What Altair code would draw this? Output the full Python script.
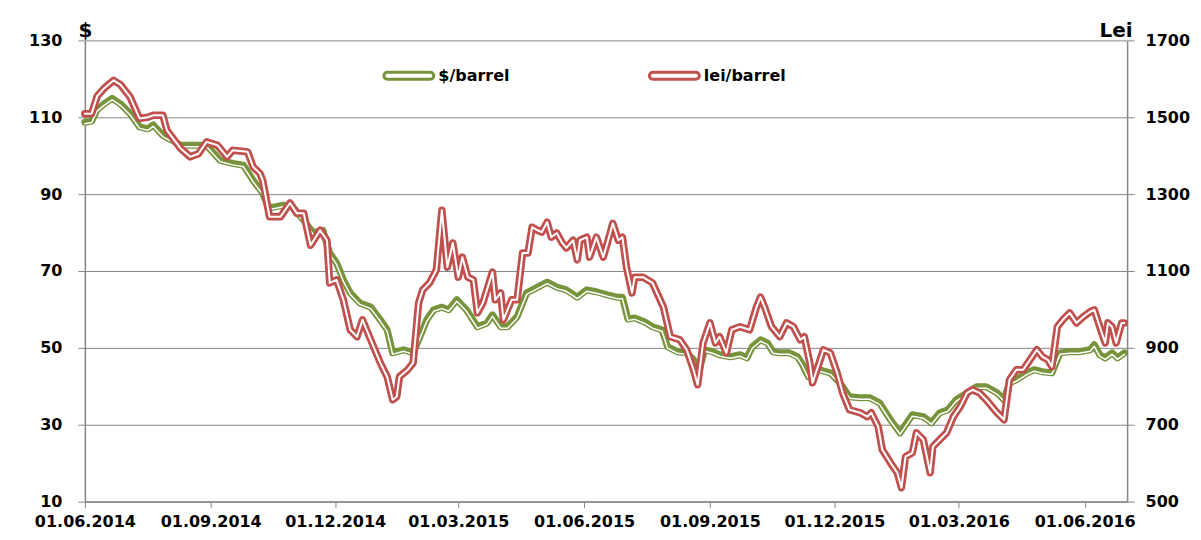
import altair as alt
import pandas as pd

START = "2014-06-01"

# $/barrel readings (days since 01.06.2014, value in $)
usd_days = [0, 5, 9, 14, 20, 26, 33, 40, 46, 50,
            57, 64, 70, 79, 89, 99, 108, 116, 123, 130,
            134, 138, 145, 152, 160, 167, 174, 179, 184, 189,
            194, 201, 209, 216, 221, 225, 233, 240, 245, 250,
            255, 261, 266, 272, 279, 287, 294, 298, 304, 309,
            316, 323, 331, 338, 345, 352, 360, 367, 374, 382,
            389, 393, 397, 402, 409, 415, 422, 426, 433, 440,
            445, 448, 453, 459, 464, 472, 479, 484, 488, 494,
            499, 503, 508, 515, 521, 524, 529, 534, 537, 545,
            552, 559, 567, 574, 581, 589, 596, 601, 605, 613,
            619, 625, 631, 637, 645, 652, 659, 667, 672, 676,
            681, 689, 694, 700, 707, 713, 720, 727, 735, 738,
            742, 746, 751, 755, 760]
usd_values = [108.7, 109.0, 112.0, 113.5, 114.9, 113.5, 111.0, 107.5, 107.0, 108.0,
              105.3, 104.0, 102.7, 102.7, 102.7, 98.8, 98.0, 97.5, 93.6, 90.3,
              86.6, 86.6, 87.1, 86.6, 83.2, 79.9, 80.6, 74.7, 72.1, 67.7,
              64.3, 61.7, 60.6, 57.3, 54.7, 48.7, 49.5, 48.7, 52.9, 57.3,
              59.9, 60.6, 59.9, 62.5, 59.9, 55.5, 56.5, 58.6, 55.5, 55.5,
              58.1, 64.3, 65.8, 67.1, 65.8, 65.1, 63.2, 65.1, 64.6, 63.8,
              63.2, 63.2, 57.5, 57.8, 56.8, 55.5, 54.7, 50.3, 49.0, 48.7,
              46.9, 42.5, 49.5, 49.0, 48.2, 47.7, 48.2, 47.4, 50.3, 52.1,
              51.3, 49.0, 48.7, 48.7, 47.7, 46.1, 42.5, 44.0, 44.3, 43.5,
              40.9, 37.3, 37.0, 37.0, 35.7, 31.3, 27.9, 30.5, 32.6, 32.1,
              30.5, 33.1, 33.9, 36.5, 38.3, 39.9, 39.9, 38.3, 36.5, 40.9,
              41.7, 43.5, 44.3, 43.8, 43.5, 48.7, 49.0, 49.0, 49.5, 50.8,
              48.2, 47.4, 48.7, 47.4, 48.7]

# lei/barrel readings (days since 01.06.2014, value in lei)
lei_days = [0, 5, 9, 14, 21, 26, 33, 40, 46, 50,
            57, 60, 70, 77, 83, 89, 97, 104, 108, 119,
            123, 128, 130, 135, 143, 150, 155, 160, 165, 172,
            177, 179, 184, 189, 194, 199, 203, 209, 216, 221,
            225, 228, 230, 236, 240, 244, 247, 252, 257, 261,
            265, 269, 273, 276, 280, 284, 287, 291, 298, 300,
            304, 306, 309, 312, 316, 320, 324, 327, 331, 334,
            338, 341, 345, 349, 352, 357, 360, 362, 367, 369,
            374, 379, 382, 386, 390, 393, 396, 400, 402, 408,
            415, 423, 428, 435, 440, 445, 448, 452, 457, 461,
            464, 469, 473, 479, 486, 491, 494, 497, 502, 508,
            513, 518, 523, 526, 530, 532, 540, 545, 550, 554,
            559, 567, 572, 575, 580, 583, 589, 594, 597, 600,
            605, 608, 613, 618, 620, 625, 630, 635, 640, 645,
            649, 654, 659, 667, 672, 676, 681, 686, 691, 696,
            700, 704, 707, 711, 715, 720, 725, 730, 735, 738,
            742, 746, 748, 751, 754, 758, 760]
lei_values = [1509, 1510, 1555, 1575, 1596, 1585, 1553, 1497, 1500, 1505,
              1505, 1466, 1419, 1397, 1405, 1436, 1427, 1397, 1414, 1410,
              1371, 1354, 1336, 1241, 1241, 1277, 1250, 1250, 1167, 1206,
              1180, 1069, 1077, 1025, 947, 929, 973, 921, 861, 825,
              765, 773, 825, 843, 861, 1017, 1051, 1069, 1103, 1258,
              1110, 1173, 1084, 1136, 1084, 1077, 991, 1017, 1097, 1025,
              1043, 973, 999, 1025, 1025, 1147, 1147, 1214, 1206, 1201,
              1227, 1188, 1199, 1173, 1160, 1180, 1129, 1180, 1188, 1136,
              1188, 1136, 1173, 1224, 1180, 1188, 1110, 1043, 1084, 1084,
              1069, 1006, 929, 921, 895, 843, 804, 913, 965, 913,
              929, 887, 947, 955, 947, 1006, 1032, 1006, 955, 929,
              965, 955, 921, 929, 861, 809, 895, 887, 835, 783,
              739, 731, 721, 731, 695, 635, 601, 575, 536, 617,
              627, 679, 661, 575, 643, 661, 679, 721, 747, 783,
              791, 783, 765, 731, 713, 817, 843, 843, 869, 895,
              877, 869, 851, 955, 973, 991, 965, 981, 994, 999,
              955, 913, 965, 955, 913, 965, 965]

series_names = ["$/barrel", "lei/barrel"]
series_colors = ["#77933C", "#C0504D"]
x_tick_dates = [(2014, 6), (2014, 9), (2014, 12), (2015, 3), (2015, 6),
                (2015, 9), (2015, 12), (2016, 3), (2016, 6)]
x_domain = [(2014, 6, 1), (2016, 7, 2)]
usd_ticks = [10, 30, 50, 70, 90, 110, 130]
lei_ticks = [500, 700, 900, 1100, 1300, 1500, 1700]


def to_dates(days):
    base = pd.Timestamp(START)
    return [(base + pd.Timedelta(days=d)).strftime("%Y-%m-%d") for d in days]


usd_df = pd.DataFrame({"date": to_dates(usd_days), "value": usd_values,
                       "series": series_names[0]})
lei_df = pd.DataFrame({"date": to_dates(lei_days), "value": lei_values,
                       "series": series_names[1]})

x_enc = alt.X(
    "date:T",
    scale=alt.Scale(type="utc", domain=[alt.DateTime(year=y, month=m, date=d, utc=True)
                                        for (y, m, d) in x_domain]),
    axis=alt.Axis(values=[alt.DateTime(year=y, month=m, date=1, utc=True) for (y, m) in x_tick_dates],
                  labelExpr="utcFormat(datum.value, '%d.%m.%Y')", title=None, grid=False,
                  tickSize=6, labelPadding=6, labelOverlap=False, labelFlush=False),
)

y_usd = alt.Y(
    "value:Q",
    scale=alt.Scale(domain=[10, 130], nice=False, zero=False),
    axis=alt.Axis(orient="left", values=usd_ticks, format="d", title="$", titleAngle=0, titleX=0,
                  titleY=-4, titleAlign="center", titleBaseline="alphabetic", titleFontSize=20,
                  tickSize=7, labelPadding=16, grid=True),
)
y_lei = alt.Y(
    "value:Q",
    scale=alt.Scale(domain=[500, 1700], nice=False, zero=False),
    axis=alt.Axis(orient="right", values=lei_ticks, format="d", title="Lei", titleAngle=0, titleX=5,
                  titleY=-4, titleAlign="right", titleBaseline="alphabetic", titleFontSize=20,
                  tickSize=7, labelPadding=11, grid=False),
)

capsule = "M -0.86 -0.14 L 0.86 -0.14 A 0.14 0.14 0 0 1 0.86 0.14 L -0.86 0.14 A 0.14 0.14 0 0 1 -0.86 -0.14 Z"

color_enc = alt.Color(
    "series:N",
    scale=alt.Scale(domain=series_names, range=series_colors),
    legend=alt.Legend(orient="none", legendX=298, legendY=9, direction="horizontal", title=None,
                      symbolType=capsule, symbolSize=2500, symbolStrokeWidth=3,
                      symbolFillColor="white", labelFontSize=16, labelFont="DejaVu Sans",
                      labelFontWeight="bold", labelColor="#000000", labelOffset=3,
                      columnPadding=133, padding=0),
)

green_base = alt.Chart(usd_df).mark_line(strokeWidth=7, strokeCap="round", strokeJoin="round").encode(
    x=x_enc, y=y_usd, color=color_enc)
green_inner = alt.Chart(usd_df).mark_line(strokeWidth=1.5, color="white", yOffset=1.5,
                                          strokeCap="round", strokeJoin="round").encode(x=x_enc, y=y_usd)
red_base = alt.Chart(lei_df).mark_line(strokeWidth=7.5, strokeCap="round", strokeJoin="round").encode(
    x=x_enc, y=y_lei, color=color_enc)
red_inner = alt.Chart(lei_df).mark_line(strokeWidth=2, color="white",
                                        strokeCap="round", strokeJoin="round").encode(x=x_enc, y=y_lei)

left = alt.layer(green_base, green_inner)
right = alt.layer(red_base, red_inner)

chart = (
    alt.layer(left, right)
    .resolve_scale(y="independent")
    .properties(width=1044, height=462,
                autosize=alt.AutoSizeParams(type="none"),
                padding={"left": 77, "top": 32, "right": 66, "bottom": 30},
                background="white")
    .configure_axis(labelFont="DejaVu Sans", labelFontWeight="bold", labelFontSize=16,
                    labelColor="#000000", titleFont="DejaVu Sans", titleFontWeight="bold",
                    titleColor="#000000", domainColor="#868686", tickColor="#868686",
                    gridColor="#868686", gridWidth=1, domainWidth=1.5)
    .configure_view(strokeWidth=0)
)

chart.save("out.html", embed_options={"renderer": "svg", "actions": False})
